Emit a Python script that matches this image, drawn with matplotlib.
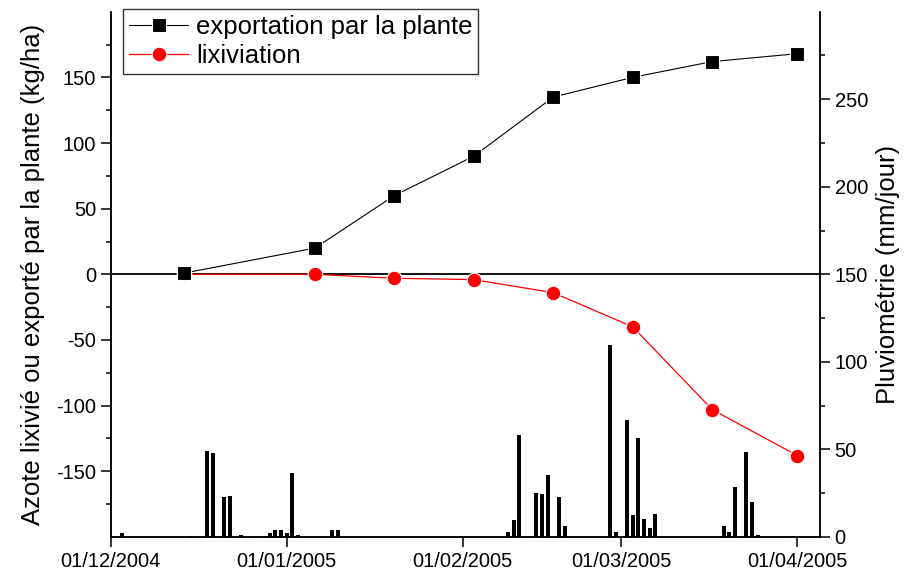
import matplotlib
matplotlib.use('Agg')
import matplotlib.pyplot as plt
import matplotlib.dates as mdates
from matplotlib.ticker import FixedLocator
import pandas as pd

plt.rcParams['font.family'] = ['Liberation Sans', 'DejaVu Sans']
plt.rcParams['axes.unicode_minus'] = False

# azote exporté / lixivié (kg/ha)
n_dates = ['2004-12-14', '2005-01-06', '2005-01-20', '2005-02-03',
           '2005-02-17', '2005-03-03', '2005-03-17', '2005-04-01']
export_plante = [1, 20, 60, 90, 135, 150, 162, 168]
lixiviation = [0, 0, -3, -4, -14, -40, -103, -138]

# pluviométrie journalière (mm/jour)
rain_dates = ['2004-12-03', '2004-12-15', '2004-12-18', '2004-12-19', '2004-12-21',
              '2004-12-22', '2004-12-24', '2004-12-28', '2004-12-29', '2004-12-30',
              '2004-12-31', '2005-01-01', '2005-01-02', '2005-01-03', '2005-01-09',
              '2005-01-10', '2005-02-09', '2005-02-10', '2005-02-11', '2005-02-14',
              '2005-02-15', '2005-02-16', '2005-02-18', '2005-02-19', '2005-02-27',
              '2005-02-28', '2005-03-02', '2005-03-03', '2005-03-04', '2005-03-05',
              '2005-03-06', '2005-03-07', '2005-03-19', '2005-03-20', '2005-03-21',
              '2005-03-23', '2005-03-24', '2005-03-25', '2005-03-31']
rain = [2, 0.5, 49, 48, 23, 23.5, 1.3, 0.8, 2, 3.8,
        4.2, 2, 36.6, 1.3, 4.2, 4.2, 3, 9.5, 58.3, 25.2,
        24.4, 35.6, 23.1, 6.1, 109.5, 3, 66.9, 12.7, 56.8, 10.4,
        4.9, 13.1, 6.1, 2.8, 28.8, 48.3, 19.9, 1, 0.5]

month_ticks = ['2004-12-01', '2005-01-01', '2005-02-01', '2005-03-01', '2005-04-01']

n_x = pd.to_datetime(n_dates)
r_x = pd.to_datetime(rain_dates)

fig = plt.figure(figsize=(9.14, 5.75), dpi=100)
ax = fig.add_axes([0.1211, 0.0661, 0.7761, 0.9136])
ax2 = ax.twinx()

# barres de pluie sur l'axe de droite, derrière les courbes
ax2.bar(r_x, rain, width=0.7, color='black', zorder=1)
ax.set_zorder(ax2.get_zorder() + 1)
ax.patch.set_visible(False)

ax.axhline(0, color='black', lw=1.3, zorder=2)
ax.plot(n_x, export_plante, color='black', lw=0.8, marker='s', ms=10,
        mec='white', mew=0.8, label='exportation par la plante', zorder=4)
ax.plot(n_x, lixiviation, color='red', lw=0.9, marker='o', ms=10.5,
        mec='white', mew=0.8, label='lixiviation', zorder=3)

ax.set_xlim(pd.Timestamp('2004-12-01'), pd.Timestamp('2005-04-05'))
ax.set_ylim(-200, 200)
ax2.set_ylim(0, 300)

ax.xaxis.set_major_locator(FixedLocator(mdates.date2num(pd.to_datetime(month_ticks))))
ax.xaxis.set_major_formatter(mdates.DateFormatter('%d/%m/%Y'))

ax.yaxis.set_major_locator(FixedLocator([-150, -100, -50, 0, 50, 100, 150]))
ax.yaxis.set_minor_locator(FixedLocator([-175, -125, -75, -25, 25, 75, 125, 175]))
ax2.yaxis.set_major_locator(FixedLocator([0, 50, 100, 150, 200, 250]))
ax2.yaxis.set_minor_locator(FixedLocator([25, 75, 125, 175, 225, 275]))

for a in (ax, ax2):
    a.spines['top'].set_visible(False)
    for s in a.spines.values():
        s.set_linewidth(1.1)
    a.tick_params(which='major', direction='out', length=7, width=1.1, labelsize=14.5)
    a.tick_params(which='minor', direction='out', length=3.6, width=1.1)

ax.set_ylabel('Azote lixivié ou exporté par la plante (kg/ha)', fontsize=18.5, labelpad=8)
ax2.set_ylabel('Pluviométrie (mm/jour)', fontsize=18.5, labelpad=6)

leg = ax.legend(loc='upper left', bbox_to_anchor=(123.3 / 914, 1 - 9.3 / 575),
                bbox_transform=fig.transFigure, borderaxespad=0, fontsize=18.5,
                fancybox=False, framealpha=1, edgecolor='#333333', numpoints=1,
                handlelength=2.3, handletextpad=0.3, labelspacing=0.2, borderpad=0.22)
leg.get_frame().set_linewidth(1.0)

fig.savefig('out.png', dpi=100)
